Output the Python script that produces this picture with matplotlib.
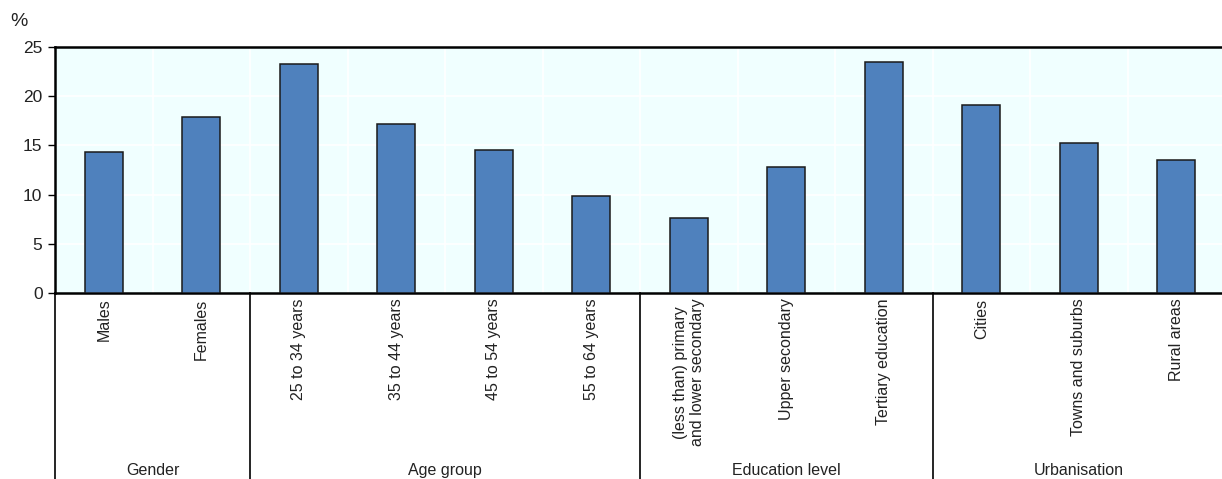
import matplotlib
matplotlib.use("Agg")
import matplotlib.pyplot as plt
import numpy as np

plt.rcParams['font.family'] = ['Liberation Sans', 'DejaVu Sans']

categories = ["Males", "Females", "25 to 34 years", "35 to 44 years", "45 to 54 years",
              "55 to 64 years", "(less than) primary\nand lower secondary", "Upper secondary",
              "Tertiary education", "Cities", "Towns and suburbs", "Rural areas"]
values = [14.3, 17.9, 23.3, 17.2, 14.5, 9.9, 7.6, 12.8, 23.5, 19.1, 15.2, 13.5]
groups = ["Gender", "Age group", "Education level", "Urbanisation"]
group_sizes = [2, 4, 3, 3]
yticks = [0, 5, 10, 15, 20, 25]

fig = plt.figure(figsize=(12.22, 4.79), dpi=100)
ax = fig.add_axes([55/1222, 1-293/479, 1170/1222, (293-47)/479])
ax.set_facecolor("#F0FFFF")

x = np.arange(len(categories))
ax.bar(x, values, width=0.39, color="#4F81BD", edgecolor="#1a1a1a", linewidth=1.1, zorder=3)

ax.set_xlim(-0.5, len(categories) - 0.5)
ax.set_ylim(0, 25)
ax.set_yticks(yticks)
ax.set_yticklabels([str(t) for t in yticks], fontsize=12.5, color="#222222")
for t in yticks[1:-1]:
    ax.axhline(t, color="white", linewidth=1.2, zorder=1)
for b in np.arange(0.5, len(categories) - 0.5, 1):
    ax.axvline(b, color="white", linewidth=1.2, zorder=1)

ax.set_xticks(x)
ax.set_xticklabels(categories, rotation=90, fontsize=11.5, va="top", ha="center",
                   linespacing=1.2, color="#222222")
ax.tick_params(axis="x", length=0, pad=4)
ax.tick_params(axis="y", length=5, width=1, direction="out", pad=4)

for s in ["top", "left", "bottom"]:
    ax.spines[s].set_linewidth(1.8)
    ax.spines[s].set_color("black")
ax.spines["right"].set_visible(False)

# group separators and labels
trans = ax.get_xaxis_transform()
bottom_frac = -(479 - 293) / (293 - 47)
edges = np.concatenate([[-0.5], np.cumsum(group_sizes) - 0.5])
for e in edges[:-1]:
    ax.plot([e, e], [0, bottom_frac], transform=trans, color="black", linewidth=1.2, clip_on=False)
for i, g in enumerate(groups):
    mid = (edges[i] + edges[i + 1]) / 2
    ax.text(mid, bottom_frac + 0.005, g, transform=trans, ha="center", va="bottom",
            fontsize=11.5, color="#222222")

fig.text(10/1222, 1 - 22/479, "%", fontsize=14, ha="left", va="center", color="#222222")

fig.savefig("out.png", dpi=100)
